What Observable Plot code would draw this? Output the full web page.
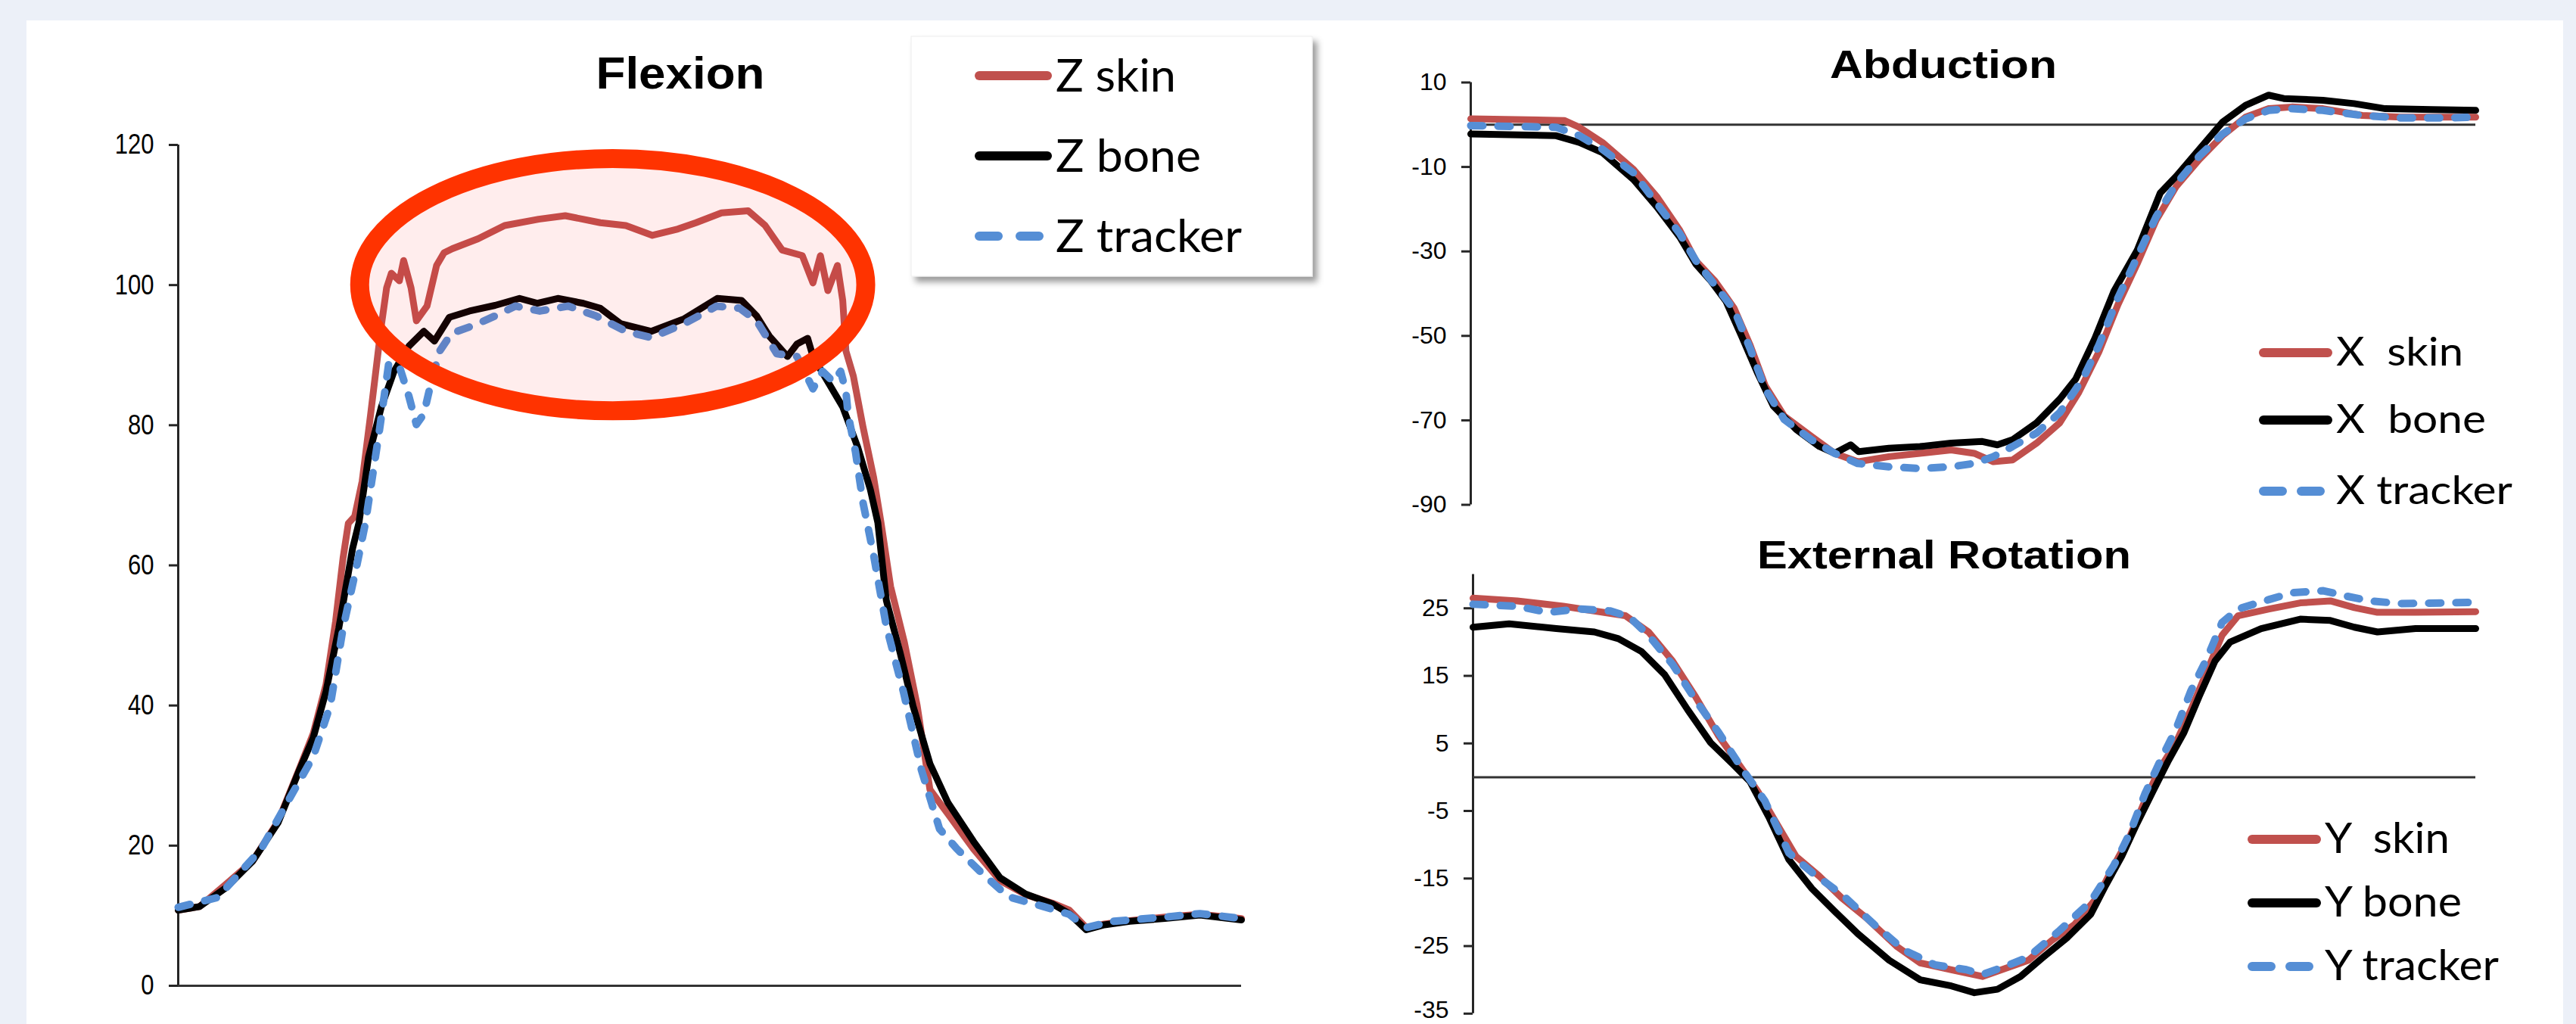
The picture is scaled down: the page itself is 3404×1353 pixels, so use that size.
<!DOCTYPE html>
<html>
<head>
<meta charset="utf-8">
<script src="https://cdn.jsdelivr.net/npm/d3@7"></script>
<script src="https://cdn.jsdelivr.net/npm/@observablehq/plot@0.6"></script>
<style>
  html, body { margin: 0; padding: 0; background: #ECF0F8; }
  #page { position: relative; width: 3404px; height: 1353px; overflow: hidden; background: #ECF0F8; }
  #panel { position: absolute; left: 35px; top: 27px; width: 3352px; height: 1326px; background: #ffffff; }
  .chart { position: absolute; }
  .chart svg { display: block; overflow: hidden; }
  #overlay { position: absolute; left: 0; top: 0; width: 3404px; height: 1353px; pointer-events: none; }
</style>
</head>
<body>
<div id="page">
  <div id="panel"></div>
  <div id="flex" class="chart" style="left:0px;top:0px;width:1760px;height:1353px"></div>
  <div id="ext" class="chart" style="left:1760px;top:672px;width:1620px;height:681px"></div>
  <div id="abd" class="chart" style="left:1760px;top:0px;width:1620px;height:692px"></div>
  <svg id="overlay" width="3404" height="1353"></svg>
</div>
<script>
// ---------------- DATA (x = % of movement cycle, value = degrees) ----------------
const titles = ["Flexion", "Abduction", "External Rotation"];
const flexLegend = ["Z skin", "Z bone", "Z tracker"];
const abdLegend = ["X  skin", "X  bone", "X tracker"];
const extLegend = ["Y  skin", "Y bone", "Y tracker"];

const flexTicks = [0, 20, 40, 60, 80, 100, 120];
const abdTicks = [10, -10, -30, -50, -70, -90];
const extTicks = [25, 15, 5, -5, -15, -25, -35];

const flexSkin = [[0,10.8],[2,11.3],[4.5,14.5],[7,17.8],[9.4,23.5],[11.4,31],[12.7,36],[13.9,43],[14.8,52],[15.5,61],[16.0,66],[16.6,67],[17.3,72],[18.1,81.6],[19.1,94.2],[19.6,99.6],[20.05,101.7],[20.8,100.6],[21.2,103.5],[21.9,99.6],[22.4,94.9],[23.4,97.0],[24.3,102.8],[25.0,104.6],[25.8,105.2],[28.2,106.6],[30.7,108.5],[33.9,109.4],[36.4,109.9],[39.7,108.9],[42.1,108.5],[44.6,107.1],[47.0,108.0],[48.7,108.9],[51.1,110.3],[53.6,110.6],[55.2,108.5],[56.8,105.0],[58.7,104.2],[59.7,100.3],[60.4,104.2],[61.1,99.2],[62.0,102.8],[62.5,97.8],[62.8,90.6],[63.5,87.0],[64.4,79.8],[65.4,72.6],[66.1,66.1],[67.0,57],[68.3,49],[69.5,40],[70.7,28],[72.4,24.5],[74.8,19.5],[77.3,15],[79.7,13],[82.2,11.8],[83.8,10.8],[85.4,8.3],[87.1,8.8],[89.5,9.3],[92.8,9.8],[96.1,10.2],[100,9.6]];
const flexBone = [[0,10.8],[2,11.3],[4.5,14],[7,17.8],[9.4,23.3],[11.4,30.8],[12.7,35.4],[13.9,42],[15.1,51],[16.4,62.4],[17.0,66.1],[17.9,75.5],[19.1,82.6],[20.3,87.7],[21.7,91.3],[23.1,93.4],[24.1,92.0],[25.5,95.4],[27.4,96.3],[29.8,97.1],[32.1,98.1],[33.8,97.4],[35.7,98.1],[38.1,97.4],[39.7,96.7],[41.6,94.5],[44.5,93.4],[47.6,95.2],[50.7,98.1],[53.0,97.8],[54.4,95.6],[55.6,92.7],[57.3,89.8],[58.2,91.6],[59.2,92.4],[59.7,89.8],[61.1,86.2],[62.5,82.6],[63.9,76.9],[65.1,70.8],[65.8,66.1],[66.6,55],[67.9,47.5],[69.1,40],[70.7,31.7],[72.4,26.1],[74.8,20.6],[77.3,15.4],[79.7,13.1],[82.2,11.7],[83.8,10.3],[85.4,8],[87.1,8.7],[89.5,9.2],[92.8,9.6],[96.1,10.1],[100,9.4]];
const flexTracker = [[0,11.2],[3.7,12.6],[7.8,19.5],[10.2,26],[12.7,32.7],[14.3,40],[15.5,51],[16.8,60],[17.6,66],[18.9,79.0],[19.8,88.8],[20.8,88.4],[21.7,84.1],[22.4,80.1],[23.1,81.6],[23.8,86.2],[24.6,90.6],[25.7,93.1],[27.9,94.3],[29.8,95.6],[31.7,97.0],[34.0,96.3],[36.7,97.0],[39.3,95.6],[42.1,93.4],[44.5,92.5],[47.6,94.5],[50.65,97.0],[52.8,96.7],[54.4,94.9],[56.3,90.2],[58.2,89.8],[59.7,85.2],[60.6,87.7],[61.6,86.2],[62.3,87.7],[62.8,84.8],[63.0,81.6],[63.7,76.2],[64.4,69.0],[65.4,61.5],[66.6,51.3],[68.2,42],[69.9,30.8],[71.6,22.4],[73.2,19.6],[75.7,15.9],[78.1,12.7],[81.4,11.3],[83.8,10.2],[85.4,8.3],[87.9,9.2],[92.8,9.8],[96.1,10.3],[100,9.6]];

const abdSkin = [[0,1.4],[9.3,1.0],[10.8,-0.6],[13.1,-4.2],[16.2,-10.6],[18.5,-17],[20.8,-25],[22.4,-32.2],[24.3,-37],[26.2,-43.4],[27.8,-52.2],[29.3,-61.8],[31.2,-69],[33.9,-73.8],[36.2,-77.8],[38.5,-79.8],[41.6,-78.6],[44.7,-77.8],[47.8,-77],[50.1,-77.8],[52,-79.8],[53.9,-79.4],[56.3,-75.4],[58.6,-70.6],[60.5,-63.4],[62.5,-53.8],[64.4,-42.6],[66.3,-33],[68.2,-22.6],[70.2,-14.6],[72.5,-8.2],[74.8,-2.6],[77.1,1.8],[79.4,3.8],[81.7,4.2],[84.8,3.8],[88.7,2.2],[92.5,1.8],[97.1,1.8],[100,1.8]];
const abdBone = [[0,-2.2],[8.5,-2.6],[10.8,-4.2],[13.1,-6.6],[16.2,-13],[18.5,-19.4],[20.8,-26.6],[22.4,-33],[23.9,-37],[25.4,-41.8],[26.9,-49.8],[28.5,-58.6],[30.1,-66.6],[32.4,-72.2],[34.7,-76.2],[36.2,-77.8],[37.8,-75.8],[38.6,-77.4],[41.6,-76.6],[44.7,-76.2],[47.8,-75.4],[50.9,-75],[52.4,-75.8],[53.9,-74.6],[56.3,-70.6],[58.6,-65],[60.2,-60.2],[62.1,-50.6],[64,-39.4],[66.3,-29.8],[68.6,-16.2],[70.2,-12.2],[72.5,-5.8],[74.8,0.6],[77.1,4.6],[79.4,7],[80.9,6.2],[84.8,5.8],[87.9,5],[91,3.8],[95.6,3.6],[100,3.4]];
const abdTracker = [[0,-0.2],[8.5,-0.6],[10.8,-2.6],[13.1,-5.8],[16.2,-11.4],[20.8,-25.8],[22.4,-32.2],[26.2,-43.8],[27.8,-53],[29.3,-62.6],[31.2,-69.8],[33.9,-74.6],[36.2,-77.8],[38.5,-80.2],[41.6,-81],[44.7,-81.4],[47.8,-81],[50.1,-80.2],[52,-78.6],[53.9,-76.2],[56.3,-73],[58.6,-68.2],[60.9,-60.2],[62.5,-52.2],[64.4,-41],[66.3,-31.4],[68.2,-21.8],[70.2,-14],[72.5,-7.4],[74.8,-2.2],[77.1,1.4],[79.4,3.4],[81.7,3.8],[84.8,3.4],[88.7,2.2],[92.5,1.6],[97.1,1.6],[100,1.8]];

const extSkin = [[0,26.5],[4.4,26.1],[9,25.3],[12.1,24.6],[15.2,23.9],[17.5,21.5],[19.9,17.2],[22.2,11.9],[24.5,6.1],[26.8,1.3],[28.4,-2.1],[29.9,-5.9],[32.2,-11.7],[34.5,-14.6],[36.8,-17.9],[39.2,-20.8],[42.3,-25.1],[44.6,-27.5],[47.7,-28.5],[50.8,-29.5],[53.1,-28.3],[55.4,-27.1],[57.7,-24.2],[60,-21.8],[62.4,-17.5],[63.9,-13.1],[65.5,-8.8],[67,-3.5],[68.5,1.3],[70.1,5.1],[71.6,10],[73.2,15.7],[74.7,21],[76.3,23.9],[79.4,24.9],[82.5,25.8],[85.5,26.1],[87.9,25.1],[90.2,24.4],[94,24.4],[100,24.5]];
const extBone = [[0,22.2],[3.6,22.7],[8.3,22],[12.1,21.5],[14.5,20.5],[16.8,18.6],[19.1,15.2],[21.4,10],[23.7,5.1],[26,1.8],[27.6,-0.6],[29.5,-5.9],[31.5,-12.2],[33.8,-16.5],[36.1,-19.9],[38.4,-23.2],[41.5,-27.1],[44.6,-30],[47.7,-30.9],[50,-31.9],[52.3,-31.4],[54.6,-29.5],[56.9,-26.6],[59.3,-23.7],[61.6,-20.3],[63.1,-16],[64.7,-11.7],[66.2,-6.9],[67.8,-2.1],[69.3,2.3],[70.9,6.6],[72.4,11.9],[74,17.2],[75.5,20],[78.6,22],[82.5,23.4],[85.5,23.2],[87.9,22.2],[90.2,21.5],[94,22],[100,22]];
const extTracker = [[0,25.6],[4.4,25.3],[7.5,24.4],[10.6,24.9],[13.7,24.6],[15.6,23.7],[17.5,21],[19.9,16.7],[22.2,11.4],[24.5,6.6],[26.8,1.3],[29.1,-3.5],[31.5,-11.2],[33.8,-14.1],[36.9,-17.5],[40,-21.8],[43,-25.6],[46.1,-27.8],[49.2,-28.5],[50.8,-29.2],[53.1,-28],[55.4,-26.6],[58.5,-22.7],[61.6,-18.4],[63.9,-13.1],[65.5,-8.3],[67,-2.5],[68.5,2.3],[70.1,7.1],[71.6,12.8],[73.2,17.6],[74.7,22.9],[76.3,24.9],[79.4,26.3],[81.7,27.3],[84.8,27.6],[87.1,26.8],[89.4,26.1],[92.5,25.7],[97.1,25.8],[100,25.9]];

// highlighted region on the Flexion chart (data units)
const highlight = { x: 40.9, y: 100, rx: 23.8, ry: 18 };

// ---------------- STYLE ----------------
const COLORS = { skin: "#C0504D", bone: "#000000", tracker: "#558ED5" };
const rows = pts => pts.map(([x, v]) => ({ x, v }));

function lineMarks(skin, bone, tracker) {
  return [
    Plot.line(rows(skin), { x: "x", y: "v", stroke: COLORS.skin, strokeWidth: 9, strokeLinejoin: "round", strokeLinecap: "round" }),
    Plot.line(rows(bone), { x: "x", y: "v", stroke: COLORS.bone, strokeWidth: 9, strokeLinejoin: "round", strokeLinecap: "round" }),
    Plot.line(rows(tracker), { x: "x", y: "v", stroke: COLORS.tracker, strokeWidth: 10, strokeDasharray: "16,20", strokeLinejoin: "round", strokeLinecap: "round" })
  ];
}

function panel(cfg) {
  const marks = [
    Plot.ruleX([0], { y1: cfg.yDomain[0], y2: cfg.yDomain[1], stroke: "#262626", strokeWidth: 3 }),
    Plot.axisY(cfg.ticks, { tickSize: 12, tickPadding: 20, stroke: "#262626", strokeWidth: 3, fontSize: cfg.fontSize, tickFormat: d => String(d), label: null }),
    Plot.ruleY([cfg.baseline], { stroke: "#333333", strokeWidth: 3 }),
    ...lineMarks(cfg.skin, cfg.bone, cfg.tracker)
  ];
  return Plot.plot({
    width: cfg.width, height: cfg.height,
    marginLeft: cfg.ml, marginRight: cfg.mr, marginTop: cfg.mt, marginBottom: cfg.mb,
    style: { background: "transparent", color: "#000", fontFamily: "'Liberation Sans', Arial, sans-serif" },
    x: { domain: [0, 100], axis: null },
    y: { domain: cfg.yDomain, axis: null },
    marks
  });
}

function addTitle(svg, text, x, y, size, len) {
  d3.select(svg).append("text")
    .attr("x", x).attr("y", y)
    .attr("text-anchor", "middle")
    .attr("font-family", "'Liberation Sans', Arial, sans-serif")
    .attr("font-weight", "bold")
    .attr("font-size", size)
    .attr("fill", "#000")
    .attr("textLength", len).attr("lengthAdjust", "spacingAndGlyphs")
    .text(text);
}

const overlay = d3.select("#overlay");
{
  const f = overlay.append("defs").append("filter").attr("id", "legshadow")
    .attr("x", "-10%").attr("y", "-10%").attr("width", "130%").attr("height", "130%");
  f.append("feDropShadow").attr("dx", 6).attr("dy", 7).attr("stdDeviation", 4)
    .attr("flood-color", "#000").attr("flood-opacity", 0.4);
}

function addLegend(cfg) {
  const g = overlay.append("g");
  if (cfg.box) {
    g.append("rect").attr("x", cfg.box[0]).attr("y", cfg.box[1]).attr("width", cfg.box[2]).attr("height", cfg.box[3])
      .attr("fill", "#fff").attr("stroke", "#eeeeee").attr("stroke-width", 1).attr("filter", "url(#legshadow)");
  }
  const cols = [COLORS.skin, COLORS.bone, COLORS.tracker];
  cfg.labels.forEach((lab, i) => {
    const y = cfg.ys[i];
    g.append("line")
      .attr("x1", cfg.x1).attr("x2", i === 2 ? cfg.x1 + 75 + cfg.gapExtra : cfg.x2)
      .attr("y1", y).attr("y2", y)
      .attr("stroke", cols[i]).attr("stroke-width", 12).attr("stroke-linecap", "round")
      .attr("stroke-dasharray", i === 2 ? `25,${25 + cfg.gapExtra}` : null);
    g.append("text")
      .attr("x", cfg.tx).attr("y", y + cfg.base)
      .attr("text-anchor", "start")
      .attr("font-family", "Lato, 'Open Sans', sans-serif")
      .attr("font-size", cfg.size)
      .attr("fill", "#000")
      .attr("style", "white-space:pre")
      .attr("textLength", cfg.lengths[i]).attr("lengthAdjust", "spacingAndGlyphs")
      .text(lab);
  });
}

// ---------------- FLEXION ----------------
const flexPlot = panel({
  width: 1760, height: 1353, ml: 235, mr: 120, mt: 191, mb: 51,
  yDomain: [0, 120], ticks: flexTicks, fontSize: 37, baseline: 0,
  skin: flexSkin, bone: flexBone, tracker: flexTracker
});
// narrow tick labels
d3.select(flexPlot).selectAll('g[aria-label="y-axis tick label"] text').each(function () {
  const t = this.getAttribute("transform") || "";
  this.setAttribute("transform", t + " scale(0.84,1)");
});
// highlight ellipse drawn through the chart's own scales
{
  const sx = flexPlot.scale("x"), sy = flexPlot.scale("y");
  const cx = sx.apply(highlight.x), cy = sy.apply(highlight.y);
  const rx = sx.apply(highlight.x + highlight.rx) - cx;
  const ry = cy - sy.apply(highlight.y + highlight.ry);
  d3.select(flexPlot).append("ellipse")
    .attr("cx", cx).attr("cy", cy).attr("rx", rx).attr("ry", ry)
    .attr("fill", "#ff1a1a").attr("fill-opacity", 0.08)
    .attr("stroke", "#FF3300").attr("stroke-width", 25);
}
addTitle(flexPlot, titles[0], 899, 117, 60, 223);
document.getElementById("flex").appendChild(flexPlot);

// ---------------- ABDUCTION ----------------
const abdPlot = panel({
  width: 1620, height: 692, ml: 183, mr: 109, mt: 108.5, mb: 25.5,
  yDomain: [-90, 10], ticks: abdTicks, fontSize: 32, baseline: 0,
  skin: abdSkin, bone: abdBone, tracker: abdTracker
});
addTitle(abdPlot, titles[1], 808, 103, 52, 300);
document.getElementById("abd").appendChild(abdPlot);

// ---------------- EXTERNAL ROTATION ----------------
const extPlot = panel({
  width: 1620, height: 681, ml: 186, mr: 109, mt: 86.6, mb: 14.2,
  yDomain: [-35, 30], ticks: extTicks, fontSize: 32, baseline: 0,
  skin: extSkin, bone: extBone, tracker: extTracker
});
// keep the lowest tick label inside the page edge
d3.select(extPlot).selectAll('g[aria-label="y-axis tick label"] text').each(function () {
  if (this.textContent === "-35") {
    const t = this.getAttribute("transform") || "";
    this.setAttribute("transform", t + " translate(0,-5)");
  }
});
addTitle(extPlot, titles[2], 809, 79, 52, 494);
document.getElementById("ext").appendChild(extPlot);

// ---------------- LEGENDS (page coordinates) ----------------
addLegend({
  box: [1204, 48, 530, 317],
  labels: flexLegend, ys: [100, 206, 312],
  x1: 1294, x2: 1384, gapExtra: 4, tx: 1395, base: 21, size: 60,
  lengths: [159, 192, 246]
});
addLegend({
  labels: abdLegend, ys: [466, 555, 649],
  x1: 2991, x2: 3076, gapExtra: 0, tx: 3087, base: 17, size: 53,
  lengths: [168, 198, 233]
});
addLegend({
  labels: extLegend, ys: [1109, 1193, 1277],
  x1: 2976, x2: 3061, gapExtra: 0, tx: 3072, base: 18, size: 56,
  lengths: [165, 181, 230]
});
</script>
</body>
</html>
